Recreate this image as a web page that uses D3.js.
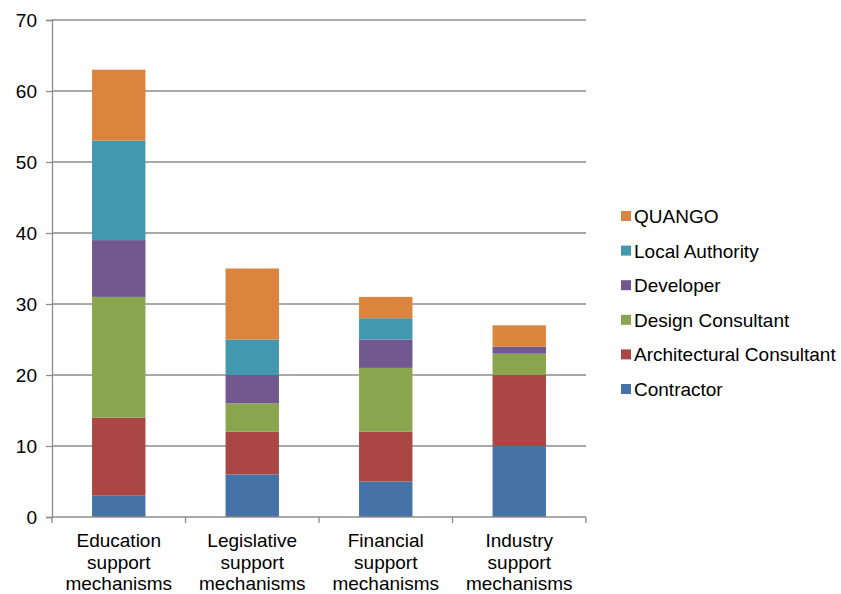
<!DOCTYPE html>
<html><head><meta charset="utf-8">
<script src="https://cdn.jsdelivr.net/npm/d3@7"></script>
<style>body{margin:0;background:#fff}svg{display:block}text{font-family:"Liberation Sans",Arial,sans-serif;fill:#000}</style>
</head><body>
<svg id="c" width="841" height="594"></svg>
<script>
const categories = ["Education support mechanisms","Legislative support mechanisms","Financial support mechanisms","Industry support mechanisms"];
const seriesNames = ["Contractor","Architectural Consultant","Design Consultant","Developer","Local Authority","QUANGO"];
const contractor = [3, 6, 5, 10];
const architectural = [11, 6, 7, 10];
const design = [17, 4, 9, 3];
const developer = [8, 4, 4, 1];
const localAuthority = [14, 5, 3, 0];
const quango = [10, 10, 3, 3];
const yTicks = [0,10,20,30,40,50,60,70];
const colors = ["#4572A7","#AA4643","#89A54E","#71588F","#4198AF","#DB843D"];

const seriesValues = [contractor, architectural, design, developer, localAuthority, quango];
const rows = categories.map((c,i)=>{const o={cat:c}; seriesNames.forEach((s,j)=>o[s]=seriesValues[j][i]); return o;});
const stack = d3.stack().keys(seriesNames)(rows);

const svg = d3.select("#c");
const L=52, R=586, T=20, B=517;
const FS = 19;
const x = d3.scaleBand().domain(categories).range([L,R]).paddingInner(0.6).paddingOuter(0.3);
const xb = d3.scaleBand().domain(categories).range([L,R]).padding(0);
const y = d3.scaleLinear().domain([0,70]).range([B,T]);

// gridlines
svg.append("g").selectAll("line").data(yTicks.filter(d=>d>0)).join("line")
  .attr("x1",L).attr("x2",R).attr("y1",d=>y(d)).attr("y2",d=>y(d))
  .attr("stroke","#8c8c8c").attr("stroke-width",1.3);

// bars
svg.append("g").selectAll("g").data(stack).join("g")
  .attr("fill",(d,i)=>colors[i])
  .selectAll("rect").data(d=>d).join("rect")
  .attr("x",d=>x(d.data.cat)).attr("width",x.bandwidth())
  .attr("y",d=>y(d[1])).attr("height",d=>y(d[0])-y(d[1]));

// y axis
const ya = svg.append("g").attr("transform",`translate(${L},0)`)
  .call(d3.axisLeft(y).tickValues(yTicks).tickSize(6).tickPadding(9));
ya.select(".domain").attr("stroke","#8c8c8c").attr("stroke-width",1.3);
ya.selectAll(".tick line").attr("stroke","#8c8c8c").attr("stroke-width",1.3);
ya.selectAll(".tick text").attr("font-size",FS).attr("font-family","Liberation Sans, Arial, sans-serif").attr("fill","#000");

// x axis
const xa = svg.append("g").attr("transform",`translate(0,${B})`);
xa.append("line").attr("x1",L).attr("x2",R).attr("stroke","#8c8c8c").attr("stroke-width",1.3);
const bounds = categories.map(c=>xb(c)).concat([R]);
xa.selectAll("line.t").data(bounds).join("line").attr("class","t")
  .attr("x1",d=>d).attr("x2",d=>d).attr("y1",0).attr("y2",6).attr("stroke","#8c8c8c").attr("stroke-width",1.3);
const lbl = xa.selectAll("text").data(categories).join("text")
  .attr("text-anchor","middle").attr("font-size",FS)
  .attr("transform",d=>`translate(${xb(d)+xb.bandwidth()/2},0)`);
lbl.each(function(d){
  const words = d.split(" ");
  d3.select(this).selectAll("tspan").data(words).join("tspan")
    .attr("x",0).attr("y",(w,i)=>30+i*21.5).text(w=>w);
});

// legend
const legendOrder = seriesNames.slice().reverse();
const lg = svg.append("g");
const ly = d3.scalePoint().domain(legendOrder).range([216,389]);
legendOrder.forEach(s=>{
  const i = seriesNames.indexOf(s);
  lg.append("rect").attr("x",621).attr("y",ly(s)-5).attr("width",10).attr("height",10).attr("fill",colors[i]);
  lg.append("text").attr("x",634).attr("y",ly(s)+7).attr("font-size",FS).text(s);
});
</script>
</body></html>
